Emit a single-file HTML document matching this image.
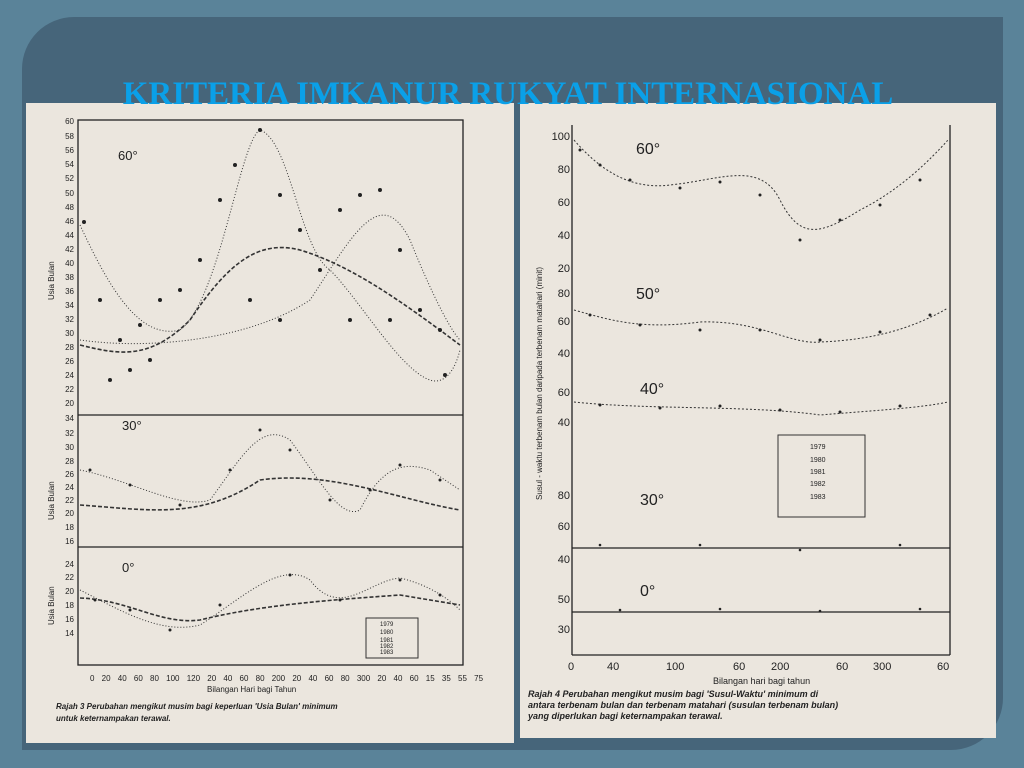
<!DOCTYPE html>
<html><head><meta charset="utf-8"><style>
html,body{margin:0;padding:0;width:1024px;height:768px;overflow:hidden;background:#5a8399}
.inner{position:absolute;left:22px;top:17px;width:981px;height:733px;background:#46657a;border-radius:52px 0 52px 0}
h1{position:absolute;left:0;width:1016px;top:76px;margin:0;text-align:center;font:bold 33px "Liberation Serif",serif;color:#0aa0e8;z-index:3;white-space:nowrap}
svg{position:absolute;left:0;top:0}
</style></head><body>
<div class="inner"></div>
<h1>KRITERIA IMKANUR RUKYAT INTERNASIONAL</h1>
<svg width="1024" height="768" font-family="Liberation Sans, sans-serif">
<rect x="26" y="103" width="488" height="640" fill="#ebe6de"/>
<rect x="520" y="103" width="476" height="635" fill="#ebe6de"/>
<g fill="none" stroke="#222" stroke-width="1.3">
<rect x="78" y="120" width="385" height="545"/>
<line x1="78" y1="415" x2="463" y2="415"/><line x1="78" y1="547" x2="463" y2="547"/>
</g>
<g font-size="8" fill="#222" text-anchor="end">
<text x="74" y="124">60</text><text x="74" y="139">58</text><text x="74" y="153">56</text><text x="74" y="167">54</text><text x="74" y="181">52</text><text x="74" y="196">50</text><text x="74" y="210">48</text><text x="74" y="224">46</text><text x="74" y="238">44</text><text x="74" y="252">42</text><text x="74" y="266">40</text><text x="74" y="280">38</text><text x="74" y="294">36</text><text x="74" y="308">34</text><text x="74" y="322">32</text><text x="74" y="336">30</text><text x="74" y="350">28</text><text x="74" y="364">26</text><text x="74" y="378">24</text><text x="74" y="392">22</text><text x="74" y="406">20</text>
<text x="74" y="421">34</text><text x="74" y="436">32</text><text x="74" y="450">30</text><text x="74" y="464">28</text><text x="74" y="477">26</text><text x="74" y="490">24</text><text x="74" y="503">22</text><text x="74" y="516">20</text><text x="74" y="530">18</text><text x="74" y="544">16</text>
<text x="74" y="567">24</text><text x="74" y="580">22</text><text x="74" y="594">20</text><text x="74" y="608">18</text><text x="74" y="622">16</text><text x="74" y="636">14</text>
</g>
<g font-size="13" fill="#222"><text x="118" y="160">60°</text><text x="122" y="430">30°</text><text x="122" y="572">0°</text></g>
<g font-size="8" fill="#222"><text transform="translate(54,300) rotate(-90)">Usia Bulan</text><text transform="translate(54,520) rotate(-90)">Usia Bulan</text><text transform="translate(54,625) rotate(-90)">Usia Bulan</text></g>
<g fill="none" stroke="#333" stroke-width="1">
<path d="M80,345 C120,355 150,360 190,320 C230,260 260,240 300,250 C350,265 400,300 460,345" stroke-width="1.6" stroke-dasharray="4,2"/>
<path d="M80,225 C110,290 140,340 180,330 C220,300 240,140 260,130 C290,140 300,250 330,270 C360,300 400,370 430,380 C445,385 455,370 460,350" stroke-dasharray="1,2"/>
<path d="M80,340 C150,350 250,340 310,300 C350,240 380,180 410,240 C430,290 450,330 460,340" stroke-dasharray="1,2"/>
<path d="M80,505 C150,510 200,520 260,480 C330,470 400,500 460,510" stroke-width="1.6" stroke-dasharray="4,2"/>
<path d="M80,470 C130,480 180,510 210,500 C240,460 260,420 290,440 C320,480 340,520 360,510 C380,470 400,460 430,470 L460,490" stroke-dasharray="1,2"/>
<path d="M80,598 C130,600 160,625 200,620 C260,605 330,600 400,595 L460,605" stroke-width="1.6" stroke-dasharray="4,2"/>
<path d="M80,590 C120,610 160,635 200,625 C240,600 280,560 310,580 C340,620 370,580 400,578 C430,585 450,600 460,610" stroke-dasharray="1,2"/>
</g>
<g fill="#222">
<circle cx="84" cy="222" r="2"/><circle cx="100" cy="300" r="2"/><circle cx="120" cy="340" r="2"/><circle cx="140" cy="325" r="2"/><circle cx="160" cy="300" r="2"/><circle cx="180" cy="290" r="2"/><circle cx="200" cy="260" r="2"/><circle cx="220" cy="200" r="2"/><circle cx="235" cy="165" r="2"/><circle cx="260" cy="130" r="2"/><circle cx="280" cy="195" r="2"/><circle cx="300" cy="230" r="2"/><circle cx="320" cy="270" r="2"/><circle cx="340" cy="210" r="2"/><circle cx="360" cy="195" r="2"/><circle cx="380" cy="190" r="2"/><circle cx="400" cy="250" r="2"/><circle cx="420" cy="310" r="2"/><circle cx="440" cy="330" r="2"/><circle cx="110" cy="380" r="2"/><circle cx="130" cy="370" r="2"/><circle cx="150" cy="360" r="2"/><circle cx="250" cy="300" r="2"/><circle cx="280" cy="320" r="2"/><circle cx="350" cy="320" r="2"/><circle cx="390" cy="320" r="2"/><circle cx="445" cy="375" r="2"/>
<circle cx="90" cy="470" r="1.5"/><circle cx="130" cy="485" r="1.5"/><circle cx="180" cy="505" r="1.5"/><circle cx="230" cy="470" r="1.5"/><circle cx="260" cy="430" r="1.5"/><circle cx="290" cy="450" r="1.5"/><circle cx="330" cy="500" r="1.5"/><circle cx="370" cy="490" r="1.5"/><circle cx="400" cy="465" r="1.5"/><circle cx="440" cy="480" r="1.5"/>
<circle cx="95" cy="600" r="1.5"/><circle cx="130" cy="610" r="1.5"/><circle cx="170" cy="630" r="1.5"/><circle cx="220" cy="605" r="1.5"/><circle cx="290" cy="575" r="1.5"/><circle cx="340" cy="600" r="1.5"/><circle cx="400" cy="580" r="1.5"/><circle cx="440" cy="595" r="1.5"/>
</g>
<rect x="366" y="618" width="52" height="40" fill="none" stroke="#333"/>
<g font-size="6" fill="#222"><text x="380" y="626">1979</text><text x="380" y="634">1980</text><text x="380" y="642">1981</text><text x="380" y="648">1982</text><text x="380" y="654">1983</text></g>
<g font-size="8" fill="#222"><text x="90" y="681" word-spacing="5">0 20 40 60 80 100 120 20 40 60 80 200 20 40 60 80 300 20 40 60 15 35 55 75</text>
<text x="207" y="692">Bilangan Hari bagi Tahun</text>
<text x="56" y="709" font-style="italic" font-weight="bold">Rajah 3 Perubahan mengikut musim bagi keperluan 'Usia Bulan' minimum</text>
<text x="56" y="721" font-style="italic" font-weight="bold">untuk keternampakan terawal.</text></g>

<g fill="none" stroke="#222" stroke-width="1.3">
<line x1="572" y1="125" x2="572" y2="655"/><line x1="950" y1="125" x2="950" y2="655"/><line x1="572" y1="655" x2="950" y2="655"/>
<line x1="572" y1="548" x2="950" y2="548"/><line x1="572" y1="612" x2="950" y2="612"/>
</g>
<g font-size="11" fill="#222" text-anchor="end">
<text x="570" y="140">100</text><text x="570" y="173">80</text><text x="570" y="206">60</text><text x="570" y="239">40</text><text x="570" y="272">20</text>
<text x="570" y="297">80</text><text x="570" y="325">60</text><text x="570" y="357">40</text>
<text x="570" y="396">60</text><text x="570" y="426">40</text>
<text x="570" y="499">80</text><text x="570" y="530">60</text><text x="570" y="563">40</text>
<text x="570" y="603">50</text><text x="570" y="633">30</text>
</g>
<g font-size="16" fill="#222"><text x="636" y="154">60°</text><text x="636" y="299">50°</text><text x="640" y="394">40°</text><text x="640" y="505">30°</text><text x="640" y="596">0°</text></g>
<text transform="translate(542,500) rotate(-90)" font-size="8" fill="#222">Susul - waktu terbenam bulan daripada terbenam matahari (minit)</text>
<g fill="none" stroke="#333" stroke-dasharray="2,2">
<path d="M574,140 C600,170 630,190 670,185 C720,180 760,160 780,200 C800,240 820,235 860,210 C900,190 930,160 948,140"/>
<path d="M574,310 C610,320 640,330 700,322 C760,320 790,345 820,342 C870,340 910,330 948,308"/>
<path d="M574,402 C650,410 750,405 820,415 C880,410 920,408 948,402"/>
</g>
<g fill="#222">
<circle cx="580" cy="150" r="1.5"/><circle cx="600" cy="165" r="1.5"/><circle cx="630" cy="180" r="1.5"/><circle cx="680" cy="188" r="1.5"/><circle cx="720" cy="182" r="1.5"/><circle cx="760" cy="195" r="1.5"/><circle cx="800" cy="240" r="1.5"/><circle cx="840" cy="220" r="1.5"/><circle cx="880" cy="205" r="1.5"/><circle cx="920" cy="180" r="1.5"/>
<circle cx="590" cy="315" r="1.5"/><circle cx="640" cy="325" r="1.5"/><circle cx="700" cy="330" r="1.5"/><circle cx="760" cy="330" r="1.5"/><circle cx="820" cy="340" r="1.5"/><circle cx="880" cy="332" r="1.5"/><circle cx="930" cy="315" r="1.5"/>
<circle cx="600" cy="405" r="1.5"/><circle cx="660" cy="408" r="1.5"/><circle cx="720" cy="406" r="1.5"/><circle cx="780" cy="410" r="1.5"/><circle cx="840" cy="412" r="1.5"/><circle cx="900" cy="406" r="1.5"/>
<circle cx="600" cy="545" r="1.3"/><circle cx="700" cy="545" r="1.3"/><circle cx="800" cy="550" r="1.3"/><circle cx="900" cy="545" r="1.3"/>
<circle cx="620" cy="610" r="1.3"/><circle cx="720" cy="609" r="1.3"/><circle cx="820" cy="611" r="1.3"/><circle cx="920" cy="609" r="1.3"/>
</g>
<rect x="778" y="435" width="87" height="82" fill="none" stroke="#333"/>
<g font-size="7" fill="#222"><text x="810" y="449">1979</text><text x="810" y="462">1980</text><text x="810" y="474">1981</text><text x="810" y="486">1982</text><text x="810" y="499">1983</text></g>
<g font-size="11" fill="#222"><text x="568" y="670">0</text><text x="607" y="670">40</text><text x="666" y="670">100</text><text x="733" y="670">60</text><text x="771" y="670">200</text><text x="836" y="670">60</text><text x="873" y="670">300</text><text x="937" y="670">60</text>
<text x="713" y="684" font-size="9">Bilangan hari bagi tahun</text></g>
<g font-size="9" fill="#222" font-style="italic" font-weight="bold"><text x="528" y="697">Rajah 4 Perubahan mengikut musim bagi 'Susul-Waktu' minimum di</text><text x="528" y="708">antara terbenam bulan dan terbenam matahari (susulan terbenam bulan)</text><text x="528" y="719">yang diperlukan bagi keternampakan terawal.</text></g>
</svg>
</body></html>
